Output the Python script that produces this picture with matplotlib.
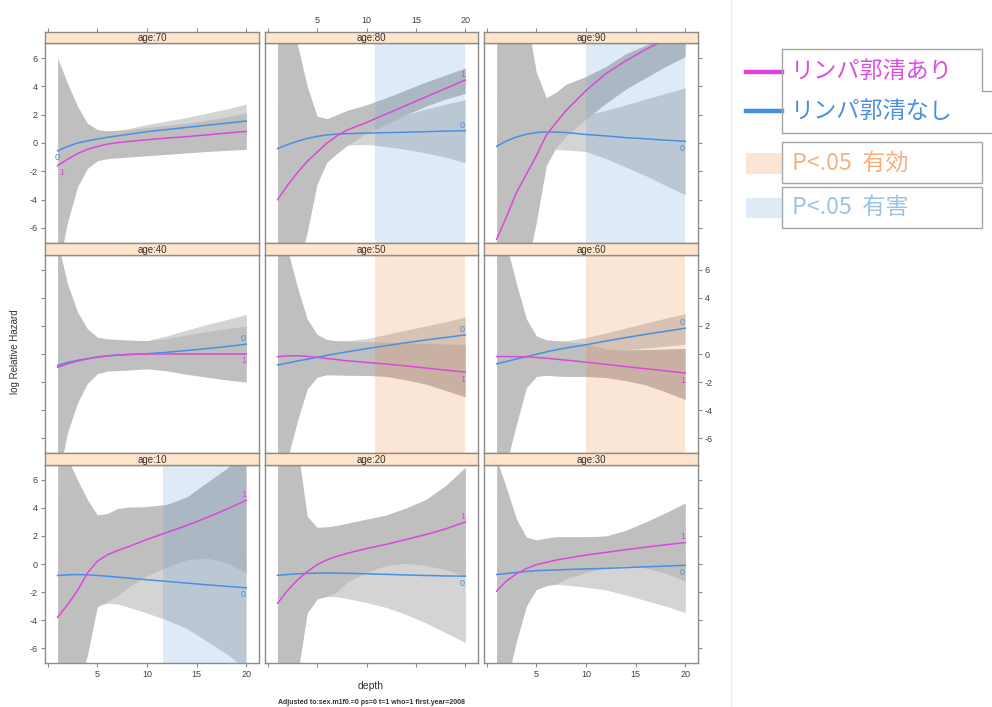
import matplotlib
matplotlib.use("Agg")
import matplotlib.pyplot as plt
from matplotlib.patches import Rectangle
from matplotlib.lines import Line2D

plt.rcParams['font.family'] = ['Liberation Sans', 'DejaVu Sans']
plt.rcParams['axes.unicode_minus'] = False

# depth grid the curves were read at
depth = [1, 2, 3, 4, 5, 6, 7, 8, 10, 12, 14, 16, 18, 20]

# age 70
age70_mag = [-1.6, -1.15, -0.75, -0.45, -0.25, -0.08, 0.02, 0.1, 0.23, 0.35, 0.45, 0.57, 0.7, 0.82]
age70_blu = [-0.55, -0.25, 0.0, 0.15, 0.28, 0.4, 0.5, 0.6, 0.8, 0.95, 1.1, 1.25, 1.4, 1.55]
age70_mag_hi = [6.0, 4.2, 2.6, 1.4, 0.95, 0.85, 0.88, 0.92, 1.1, 1.25, 1.4, 1.6, 1.85, 2.1]
age70_mag_lo = [-9, -5.6, -3.1, -1.8, -1.25, -1.1, -1.05, -1.0, -0.9, -0.8, -0.7, -0.6, -0.52, -0.45]
age70_blu_hi = [5.0, 3.5, 2.2, 1.3, 0.9, 0.85, 0.9, 1.0, 1.3, 1.55, 1.8, 2.1, 2.4, 2.75]
age70_blu_lo = [-6.0, -4.0, -2.5, -1.5, -1.0, -0.8, -0.7, -0.6, -0.4, -0.3, -0.2, -0.1, 0.0, 0.1]

# age 80
age80_mag = [-4.0, -3.0, -2.1, -1.3, -0.65, 0.0, 0.5, 0.9, 1.45, 2.05, 2.65, 3.25, 3.85, 4.45]
age80_blu = [-0.4, -0.12, 0.12, 0.32, 0.47, 0.57, 0.63, 0.66, 0.7, 0.73, 0.76, 0.8, 0.84, 0.87]
age80_mag_hi = [9, 9, 7.0, 4.0, 1.9, 1.72, 2.0, 2.3, 2.7, 3.2, 3.75, 4.3, 4.8, 5.3]
age80_mag_lo = [-9, -9, -9, -6.3, -2.9, -1.35, -0.75, -0.2, 0.7, 1.3, 2.0, 2.6, 3.1, 3.5]
age80_blu_hi = [3.0, 2.5, 2.0, 1.5, 1.3, 1.2, 1.2, 1.2, 1.3, 1.6, 2.0, 2.4, 2.75, 3.06]
age80_blu_lo = [-2.0, -1.5, -1.0, -0.7, -0.5, -0.4, -0.3, -0.15, -0.1, -0.25, -0.45, -0.7, -1.0, -1.4]

# age 90
age90_mag = [-6.8, -5.2, -3.5, -2.2, -0.9, 0.55, 1.45, 2.3, 3.7, 4.9, 5.8, 6.6, 7.3, 8.0]
age90_blu = [-0.24, 0.15, 0.42, 0.62, 0.74, 0.78, 0.77, 0.74, 0.6, 0.5, 0.38, 0.3, 0.2, 0.12]
age90_mag_hi = [9, 9, 9, 9, 5.0, 3.2, 3.6, 4.15, 4.7, 5.4, 6.3, 6.9, 7.5, 8.0]
age90_mag_lo = [-9, -9, -9, -9, -5.6, -1.6, -0.3, 0.5, 1.7, 2.8, 3.8, 4.6, 5.4, 6.1]
age90_blu_hi = [3.0, 2.5, 2.2, 2.0, 1.9, 1.8, 1.8, 1.85, 2.0, 2.3, 2.7, 3.1, 3.5, 3.9]
age90_blu_lo = [-3.0, -2.2, -1.6, -1.2, -0.8, -0.5, -0.45, -0.5, -0.6, -1.1, -1.7, -2.3, -3.0, -3.65]

# age 40
age40_mag = [-0.95, -0.7, -0.5, -0.35, -0.22, -0.13, -0.08, -0.04, 0.0, 0.0, 0.0, 0.0, 0.0, 0.0]
age40_blu = [-0.82, -0.6, -0.45, -0.33, -0.22, -0.14, -0.08, -0.04, 0.02, 0.12, 0.25, 0.38, 0.53, 0.7]
age40_mag_hi = [8.0, 5.0, 3.0, 1.8, 1.2, 1.08, 1.04, 1.0, 0.95, 1.1, 1.35, 1.6, 1.8, 2.0]
age40_mag_lo = [-9, -5.6, -3.5, -2.1, -1.4, -1.22, -1.18, -1.15, -1.06, -1.2, -1.45, -1.65, -1.85, -2.0]
age40_blu_hi = [7.0, 4.5, 2.8, 1.7, 1.15, 1.0, 0.98, 0.97, 0.95, 1.3, 1.7, 2.1, 2.45, 2.82]
age40_blu_lo = [-7.0, -5.0, -3.0, -1.8, -1.2, -1.0, -0.95, -0.9, -0.85, -0.8, -0.75, -0.7, -0.65, -0.6]

# age 50
age50_mag = [-0.19, -0.14, -0.12, -0.17, -0.24, -0.32, -0.4, -0.48, -0.6, -0.72, -0.85, -1.0, -1.15, -1.29]
age50_blu = [-0.78, -0.65, -0.5, -0.37, -0.24, -0.1, 0.03, 0.15, 0.38, 0.6, 0.8, 1.0, 1.18, 1.36]
age50_mag_hi = [9, 7.5, 4.8, 2.5, 1.4, 1.02, 0.95, 0.92, 0.88, 0.84, 0.8, 0.76, 0.71, 0.66]
age50_mag_lo = [-9, -7.5, -4.8, -2.5, -1.65, -1.48, -1.5, -1.52, -1.53, -1.6, -1.85, -2.15, -2.6, -3.06]
age50_blu_hi = [8.0, 6.0, 4.0, 2.2, 1.3, 1.0, 0.95, 0.95, 1.1, 1.4, 1.7, 2.0, 2.3, 2.63]
age50_blu_lo = [-8.0, -6.0, -4.0, -2.2, -1.4, -1.3, -1.25, -1.2, -1.1, -1.0, -0.9, -0.8, -0.7, -0.6]

# age 60
age60_mag = [-0.18, -0.18, -0.19, -0.2, -0.25, -0.3, -0.37, -0.44, -0.58, -0.74, -0.9, -1.05, -1.2, -1.36]
age60_blu = [-0.7, -0.53, -0.36, -0.19, -0.02, 0.15, 0.3, 0.43, 0.66, 0.92, 1.17, 1.4, 1.62, 1.84]
age60_mag_hi = [9, 7.8, 5.0, 2.5, 1.3, 1.0, 0.95, 0.9, 0.75, 0.35, 0.3, 0.32, 0.36, 0.4]
age60_mag_lo = [-9, -7.8, -5.0, -2.4, -1.6, -1.52, -1.57, -1.6, -1.6, -1.68, -1.9, -2.2, -2.7, -3.25]
age60_blu_hi = [8.0, 6.5, 4.2, 2.2, 1.2, 1.0, 0.95, 0.95, 1.17, 1.5, 1.85, 2.2, 2.55, 2.87]
age60_blu_lo = [-8.0, -6.0, -4.0, -2.0, -1.3, -1.1, -0.9, -0.7, -0.3, 0.15, 0.3, 0.42, 0.55, 0.7]

# age 10
age10_mag = [-3.8, -2.9, -1.9, -0.65, 0.2, 0.65, 0.95, 1.2, 1.75, 2.25, 2.75, 3.3, 3.9, 4.55]
age10_blu = [-0.82, -0.77, -0.75, -0.77, -0.82, -0.87, -0.93, -1.0, -1.12, -1.24, -1.36, -1.48, -1.59, -1.7]
age10_mag_hi = [9, 7.5, 6.0, 4.6, 3.5, 3.6, 3.95, 4.05, 4.1, 4.25, 4.78, 5.8, 6.8, 8.0]
age10_mag_lo = [-9, -9, -9, -6.5, -3.0, -2.65, -2.3, -1.7, -0.85, -0.2, 0.3, 0.42, 0.1, -0.64]
age10_blu_hi = [5.0, 3.0, 2.0, 1.5, 1.2, 1.0, 0.9, 0.85, 0.8, 0.75, 0.7, 0.65, 0.6, 0.55]
age10_blu_lo = [-9, -8, -7.5, -6.2, -3.05, -2.8, -2.85, -3.05, -3.5, -4.0, -4.6, -5.5, -6.4, -7.5]

# age 20
age20_mag = [-2.8, -1.9, -1.15, -0.55, -0.05, 0.3, 0.55, 0.75, 1.1, 1.4, 1.75, 2.1, 2.5, 3.0]
age20_blu = [-0.8, -0.75, -0.7, -0.67, -0.65, -0.64, -0.65, -0.66, -0.7, -0.74, -0.78, -0.82, -0.85, -0.87]
age20_mag_hi = [9, 9, 8.5, 3.4, 2.62, 2.65, 2.75, 2.9, 3.2, 3.5, 4.0, 4.6, 5.6, 6.9]
age20_mag_lo = [-9, -9, -8.0, -3.5, -2.5, -2.3, -2.0, -1.3, -0.6, -0.1, 0.05, -0.1, -0.4, -0.87]
age20_blu_hi = [6.0, 4.0, 3.0, 2.0, 1.5, 1.3, 1.2, 1.1, 1.0, 0.9, 0.8, 0.75, 0.7, 0.65]
age20_blu_lo = [-9, -9, -8.0, -3.3, -2.45, -2.3, -2.35, -2.45, -2.75, -3.1, -3.6, -4.2, -4.9, -5.6]

# age 30
age30_mag = [-1.93, -1.2, -0.7, -0.32, -0.05, 0.12, 0.28, 0.4, 0.64, 0.83, 1.02, 1.2, 1.37, 1.53]
age30_blu = [-0.75, -0.68, -0.6, -0.53, -0.47, -0.45, -0.42, -0.4, -0.35, -0.31, -0.26, -0.2, -0.15, -0.09]
age30_mag_hi = [7.5, 5.4, 3.2, 1.92, 1.72, 1.85, 1.95, 1.95, 1.95, 2.0, 2.4, 3.0, 3.65, 4.35]
age30_mag_lo = [-9, -8.5, -5.5, -3.0, -1.82, -1.55, -1.42, -1.05, -0.6, -0.25, -0.12, -0.28, -0.65, -1.22]
age30_blu_hi = [5.0, 3.5, 2.5, 1.6, 1.4, 1.3, 1.2, 1.1, 1.0, 0.9, 0.85, 0.8, 0.75, 0.7]
age30_blu_lo = [-9, -8.5, -5.4, -2.9, -1.78, -1.5, -1.45, -1.5, -1.65, -1.85, -2.2, -2.6, -3.0, -3.46]

# significance shading (x from .. to 20)
shade_age = [80, 90, 50, 60, 10]
shade_start = [10.85, 10.03, 10.85, 10.03, 11.64]
shade_kind = ['harm', 'harm', 'good', 'good', 'harm']

layout = [[70, 80, 90], [40, 50, 60], [10, 20, 30]]

panels = {
    70: (age70_mag, age70_blu, age70_mag_hi, age70_mag_lo, age70_blu_hi, age70_blu_lo),
    80: (age80_mag, age80_blu, age80_mag_hi, age80_mag_lo, age80_blu_hi, age80_blu_lo),
    90: (age90_mag, age90_blu, age90_mag_hi, age90_mag_lo, age90_blu_hi, age90_blu_lo),
    40: (age40_mag, age40_blu, age40_mag_hi, age40_mag_lo, age40_blu_hi, age40_blu_lo),
    50: (age50_mag, age50_blu, age50_mag_hi, age50_mag_lo, age50_blu_hi, age50_blu_lo),
    60: (age60_mag, age60_blu, age60_mag_hi, age60_mag_lo, age60_blu_hi, age60_blu_lo),
    10: (age10_mag, age10_blu, age10_mag_hi, age10_mag_lo, age10_blu_hi, age10_blu_lo),
    20: (age20_mag, age20_blu, age20_mag_hi, age20_mag_lo, age20_blu_hi, age20_blu_lo),
    30: (age30_mag, age30_blu, age30_mag_hi, age30_mag_lo, age30_blu_hi, age30_blu_lo),
}

# where the "1" / "0" curve labels sit (above / below the line end)
lab_side = {70: ('dn', 'dn'), 80: ('up', 'up'), 90: (None, 'dn'),
            40: ('dn', 'up'), 50: ('dn', 'up'), 60: ('dn', 'up'),
            10: ('up', 'dn'), 20: ('up', 'dn'), 30: ('up', 'dn')}

MAG = '#d84ad8'
BLU = '#4a8fe0'
W, H = 992, 707
fig = plt.figure(figsize=(9.92, 7.07), dpi=100)


def fx(x):
    return x / W


def fy(y):
    return 1 - y / H


col_px = [(45, 259), (265, 478), (484, 698)]
row_px = [(32, 43, 243), (243, 255, 453), (453, 465, 663)]
xt = [0, 5, 10, 15, 20]
xtl = ['', '5', '10', '15', '20']
edge = '#8c8c8c'

for r, row in enumerate(layout):
    for c, age in enumerate(row):
        x0, x1 = col_px[c]
        st, pt, pb = row_px[r]
        ax = fig.add_axes([fx(x0), fy(pb), (x1 - x0) / W, (pb - pt) / H])
        sax = fig.add_axes([fx(x0), fy(pt), (x1 - x0) / W, (pt - st) / H])
        mag, blu, mhi, mlo, bhi, blo = panels[age]

        ax.fill_between(depth, blo, bhi, color='#d4d4d4', lw=0, zorder=1)
        ax.fill_between(depth, mlo, mhi, color='#bfbfbf', lw=0, zorder=2)
        if age in shade_age:
            i = shade_age.index(age)
            col = '#ED7D31' if shade_kind[i] == 'good' else '#5B9BD5'
            ax.axvspan(shade_start[i], 20, color=col, alpha=0.2, lw=0, zorder=3)
        ax.plot(depth, blu, color=BLU, lw=1.1, zorder=4)
        ax.plot(depth, mag, color=MAG, lw=1.1, zorder=5)

        # curve labels
        ms, bs = lab_side[age]
        k = 0 if age == 70 else -1
        for side, ys, txt, colr in [(ms, mag, '1', MAG), (bs, blu, '0', BLU)]:
            if side is None:
                continue
            dy = 4 if side == 'up' else -5
            if age == 70:
                dx = 3 if txt == '1' else 0
            else:
                dx = -2
            ax.annotate(txt, (depth[k], ys[k]), xytext=(dx, dy),
                        textcoords='offset points', ha='center', va='center',
                        fontsize=6.5, color=colr, zorder=6)

        ax.set_xlim(-0.27, 21.28)
        ax.set_ylim(-7.06, 7.06)
        ax.set_xticks(xt)
        ax.set_xticklabels(xtl)
        ax.set_yticks(range(-6, 7, 2))
        ax.tick_params(direction='out', length=3, width=0.8, color=edge,
                       labelsize=6.5, labelcolor='#404040', pad=2,
                       left=(c == 0), labelleft=(c == 0 and r != 1),
                       right=(c == 2), labelright=(c == 2 and r == 1),
                       bottom=(r == 2), labelbottom=(r == 2 and c != 1),
                       top=False, labeltop=False)
        for s in ax.spines.values():
            s.set_color(edge)
            s.set_linewidth(1.0)

        # strip
        sax.set_facecolor('#ffe5cc')
        sax.set_xlim(-0.27, 21.28)
        sax.set_yticks([])
        sax.set_xticks(xt)
        sax.set_xticklabels(xtl)
        sax.tick_params(direction='out', length=3, width=0.8, color=edge,
                        labelsize=6.5, labelcolor='#404040', pad=2,
                        bottom=False, labelbottom=False,
                        top=(r == 0), labeltop=(r == 0 and c == 1))
        for s in sax.spines.values():
            s.set_color(edge)
            s.set_linewidth(1.0)
        sax.text(0.5, 0.45, 'age:%d' % age, transform=sax.transAxes,
                 ha='center', va='center', fontsize=7, color='#333333')

fig.text(fx(15), fy(352), 'log Relative Hazard', rotation=90, ha='center',
         va='center', fontsize=7, color='#333333')
fig.text(fx(371), fy(686), 'depth', ha='center', va='center', fontsize=7.5, color='#333333')
fig.text(fx(371), fy(702), 'Adjusted to:sex.m1f0.=0 ps=0 t=1 who=1 first.year=2008',
         ha='center', va='center', fontsize=5, fontweight='bold', color='#333333')

# page divider
fig.add_artist(Line2D([fx(731), fx(731)], [0, 1], color='#ececec', lw=1))

# legend drawn on top of the figure
jp = ['Noto Sans CJK JP', 'DejaVu Sans']
box = '#a6a6a6'
fig.add_artist(Line2D([fx(746), fx(782)], [fy(72), fy(72)], color='#e040e0', lw=3.2))
fig.add_artist(Line2D([fx(746), fx(782)], [fy(111), fy(111)], color='#3f8fe2', lw=3.2))
fig.add_artist(Line2D([fx(782), fx(982), fx(982), fx(992)],
                      [fy(49), fy(49), fy(91), fy(91)], color=box, lw=1))
fig.add_artist(Line2D([fx(782), fx(782), fx(992)],
                      [fy(49), fy(133), fy(133)], color=box, lw=1))
fig.text(fx(791), fy(72), 'リンパ郭清あり', family=jp, fontsize=16.7,
         color='#dd4ee0', ha='left', va='center')
fig.text(fx(791), fy(112), 'リンパ郭清なし', family=jp, fontsize=16.7,
         color='#4a8fe0', ha='left', va='center')

fig.add_artist(Rectangle((fx(746), fy(174)), 36 / W, 21 / H, color='#fbe5d6', lw=0))
fig.add_artist(Rectangle((fx(782), fy(183)), 200 / W, 41 / H, fill=False, ec=box, lw=1))
fig.text(fx(792), fy(163), 'P<.05  有効', family=jp, fontsize=16.7,
         color='#f4b183', ha='left', va='center')

fig.add_artist(Rectangle((fx(746), fy(218)), 36 / W, 20 / H, color='#deebf7', lw=0))
fig.add_artist(Rectangle((fx(782), fy(228)), 200 / W, 41 / H, fill=False, ec=box, lw=1))
fig.text(fx(792), fy(208), 'P<.05  有害', family=jp, fontsize=16.7,
         color='#9dc3e6', ha='left', va='center')

fig.savefig('out.png', dpi=100)
